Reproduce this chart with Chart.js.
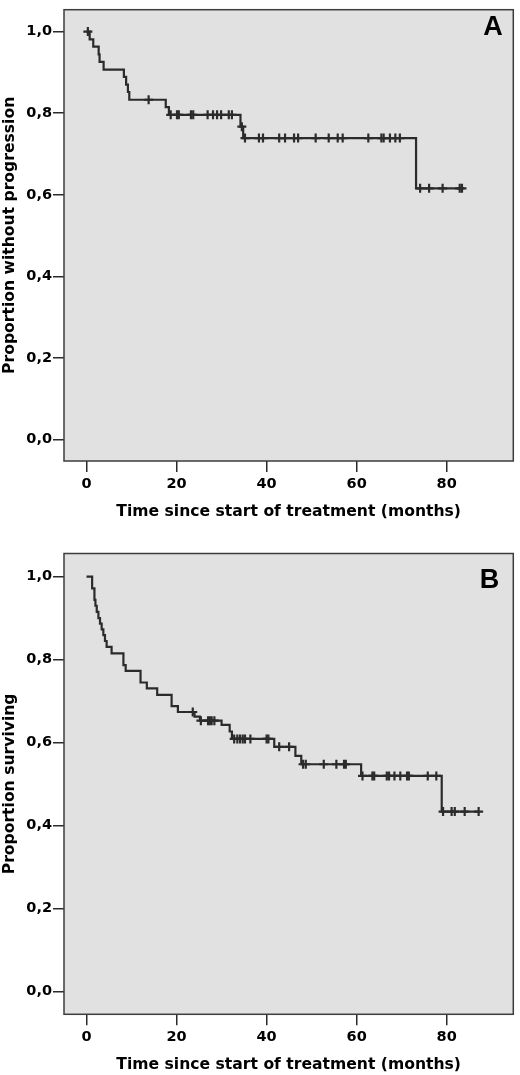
<!DOCTYPE html>
<html><head><meta charset="utf-8">
<script src="https://cdn.jsdelivr.net/npm/chart.js@4.4.1/dist/chart.umd.min.js"></script>
<style>
html,body{margin:0;padding:0;background:#fff;width:520px;height:1075px;overflow:hidden}
canvas{position:absolute;left:0;display:block}
#chartA{top:0}
#chartB{top:540px}
</style></head><body>
<canvas id="chartA" width="520" height="540"></canvas>
<canvas id="chartB" width="520" height="535"></canvas>
<script>
// ---- axis ticks ----
const xTicks = [0, 20, 40, 60, 80];
const yTicks = [0, 0.2, 0.4, 0.6, 0.8, 1.0];
const yTickLabels = ['0,0', '0,2', '0,4', '0,6', '0,8', '1,0'];
const xTitle = 'Time since start of treatment (months)';

// ---- Panel A: progression-free ----
const aEventTimes = [0.7, 1.5, 2.7, 2.9, 3.8, 8.3, 8.8, 9.2, 9.5, 17.6, 18.3, 34.2, 34.8, 73.2];
const aEventSurv  = [0.981, 0.963, 0.944, 0.926, 0.907, 0.889, 0.870, 0.852, 0.833, 0.815, 0.796, 0.767, 0.739, 0.616];
const aCensorTimes = [0.3, 13.8, 18.7, 20.1, 20.5, 23.2, 23.7, 26.9, 28.1, 29.0, 29.9, 31.6, 32.3,
  34.5, 35.2, 38.3, 39.2, 42.8, 44.1, 46.1, 47.0, 50.9, 53.8, 55.8, 56.9, 62.6, 65.5, 66.0, 67.4,
  68.6, 69.6, 74.1, 76.1, 79.1, 82.9, 83.4];
const aYTitle = 'Proportion without progression';

// ---- Panel B: overall survival ----
const bEventTimes = [1.25, 1.76, 1.98, 2.27, 2.64, 3.0, 3.37, 3.74, 4.1, 4.47, 5.57, 8.2, 8.7, 12.0,
  13.4, 15.7, 18.9, 20.3, 24.0, 25.2, 30.0, 31.8, 32.3, 41.7, 46.4, 47.7, 61.0, 78.9];
const bEventSurv  = [0.972, 0.944, 0.930, 0.915, 0.900, 0.887, 0.873, 0.859, 0.845, 0.831, 0.815, 0.787,
  0.773, 0.745, 0.731, 0.715, 0.688, 0.674, 0.663, 0.653, 0.643, 0.627, 0.609, 0.590, 0.568, 0.548, 0.520, 0.434];
const bCensorTimes = [23.6, 25.4, 27.0, 27.4, 27.8, 28.4, 32.8, 33.5, 34.1, 34.7, 35.2, 36.4, 40.0, 40.4,
  42.8, 45.0, 48.1, 48.7, 52.7, 55.5, 57.2, 57.6, 61.3, 63.5, 63.9, 66.7, 67.2, 68.4, 69.7, 71.2, 71.6,
  75.8, 77.7, 79.2, 81.1, 81.8, 84.0, 87.1];
const bYTitle = 'Proportion surviving';

// step curve from event arrays
function kmLine(times, surv, endTime) {
  const pts = [{x: 0, y: 1}];
  times.forEach((t, i) => pts.push({x: t, y: surv[i]}));
  pts.push({x: endTime, y: surv[surv.length - 1]});
  return pts;
}
function survAt(times, surv, t) {
  let s = 1;
  for (let i = 0; i < times.length; i++) if (times[i] <= t) s = surv[i];
  return s;
}
function censorPts(times, surv, cTimes) {
  return cTimes.map(t => ({x: t, y: survAt(times, surv, t)}));
}

const FONT = '"DejaVu Sans", Verdana, sans-serif';
const INK = '#2b2b2b';
const TICK_SIZE = 14.5;
const TITLE_SIZE = 15.6;

function makeChart(id, cfg) {
  const framePlugin = {
    id: 'frame' + id,
    beforeDatasetsDraw(chart) {
      const {ctx, chartArea: a} = chart;
      ctx.save();
      ctx.fillStyle = '#e1e1e1';
      ctx.fillRect(a.left, a.top, a.right - a.left, a.bottom - a.top);
      ctx.restore();
    },
    afterDraw(chart) {
      const {ctx, chartArea: a} = chart;
      ctx.save();
      ctx.strokeStyle = '#3c3c3c';
      ctx.lineWidth = 1.5;
      ctx.strokeRect(a.left, a.top, a.right - a.left, a.bottom - a.top);
      ctx.fillStyle = '#000';
      ctx.font = 'bold 27px "Liberation Sans", Arial, sans-serif';
      ctx.textAlign = 'center';
      ctx.textBaseline = 'alphabetic';
      ctx.fillText(cfg.letter, cfg.letterX, cfg.letterY);
      ctx.restore();
    }
  };
  return new Chart(document.getElementById(id), {
    type: 'line',
    data: {
      datasets: [
        {
          data: kmLine(cfg.times, cfg.surv, cfg.censors[cfg.censors.length - 1]),
          stepped: true,
          borderColor: INK,
          borderWidth: 2.2,
          pointRadius: 0,
          fill: false,
          order: 2
        },
        {
          data: censorPts(cfg.times, cfg.surv, cfg.censors),
          showLine: false,
          pointStyle: 'cross',
          pointRadius: 4.5,
          pointBorderWidth: 2.2,
          pointBorderColor: INK,
          borderColor: INK,
          order: 1
        }
      ]
    },
    options: {
      responsive: false,
      animation: false,
      events: [],
      layout: {padding: {top: cfg.plotTop, right: 2.5, left: 0, bottom: 0}},
      plugins: {legend: {display: false}, tooltip: {enabled: false}},
      scales: {
        x: {
          type: 'linear',
          min: -5, max: 94.8,
          afterFit(s) { s.height = cfg.xAxisH; },
          afterBuildTicks(s) { s.ticks = xTicks.map(v => ({value: v})); },
          grid: {drawOnChartArea: false, drawTicks: true, tickLength: 11, color: INK, lineWidth: 1.5},
          border: {display: false},
          ticks: {color: '#000', padding: 3.7, maxRotation: 0, font: {family: FONT, size: TICK_SIZE, weight: 'bold'},
                  callback: v => String(v)},
          title: {display: true, text: xTitle, color: '#000',
                  font: {family: FONT, size: TITLE_SIZE, weight: 'bold'},
                  padding: {top: 0, bottom: cfg.xTitlePad}}
        },
        y: {
          type: 'linear',
          min: cfg.yMin, max: cfg.yMax,
          afterFit(s) { s.width = 64; },
          afterBuildTicks(s) { s.ticks = yTicks.map(v => ({value: v})); },
          grid: {drawOnChartArea: false, drawTicks: true, tickLength: 11, color: INK, lineWidth: 1.5},
          border: {display: false},
          ticks: {color: '#000', padding: 1, font: {family: FONT, size: TICK_SIZE, weight: 'bold'},
                  callback: (v) => { const i = yTicks.findIndex(t => Math.abs(t - v) < 1e-6); return i >= 0 ? yTickLabels[i] : ''; }},
          title: {display: true, text: cfg.yTitle, color: '#000',
                  font: {family: FONT, size: TITLE_SIZE, weight: 'bold'},
                  padding: {top: 0.7, bottom: 0}}
        }
      }
    },
    plugins: [framePlugin]
  });
}

makeChart('chartA', {
  times: aEventTimes, surv: aEventSurv, censors: aCensorTimes, yTitle: aYTitle,
  plotTop: 1, xAxisH: 79, xTitlePad: 18.6, yMin: -0.0522, yMax: 1.0536,
  letter: 'A', letterX: 493, letterY: 35
});
makeChart('chartB', {
  times: bEventTimes, surv: bEventSurv, censors: bCensorTimes, yTitle: bYTitle,
  plotTop: 13.5, xAxisH: 60.7, xTitlePad: 0.6, yMin: -0.0545, yMax: 1.0559,
  letter: 'B', letterX: 489.5, letterY: 48.3
});
</script>
</body></html>
